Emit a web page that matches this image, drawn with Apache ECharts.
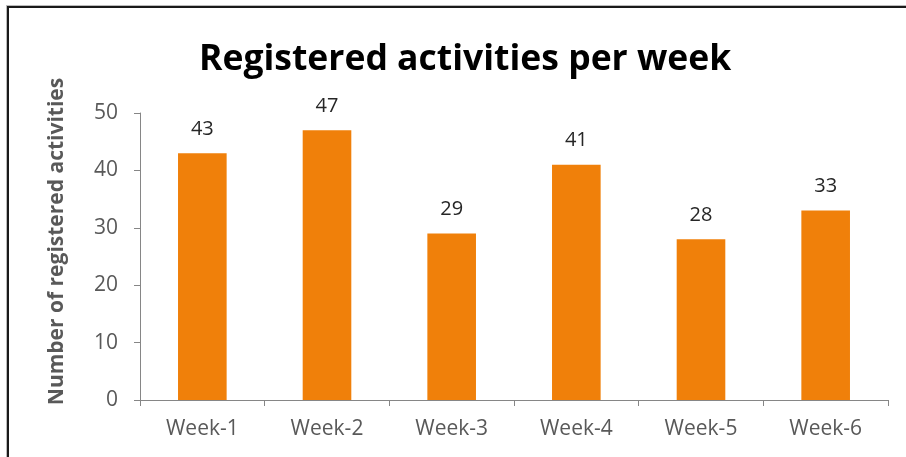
<!DOCTYPE html>
<html>
<head>
<meta charset="utf-8">
<script src="https://cdn.jsdelivr.net/npm/echarts@6/dist/echarts.min.js"></script>
<style>
  html, body { margin: 0; padding: 0; background: #fff; }
  #frame {
    position: absolute; left: 7px; top: 6px; width: 910px; height: 470px;
    border-left: 2px solid #1a1a1a; border-top: 2px solid #1a1a1a;
    box-shadow: -1px -1px 0 #bbb;
  }
  #chart { position: absolute; left: 0; top: 0; width: 906px; height: 457px; }
</style>
</head>
<body>
<div id="frame"></div>
<div id="chart"></div>
<script>
const weeks = ['Week-1', 'Week-2', 'Week-3', 'Week-4', 'Week-5', 'Week-6'];
const activities = [43, 47, 29, 41, 28, 33];
const yTicks = { min: 0, max: 50, interval: 10 };

const font = 'Open Sans, sans-serif';
const myChart = echarts.init(document.getElementById('chart'));

let option = {
  animation: false,
  title: {
    text: 'Registered activities per week',
    left: 199,
    top: 42,
    padding: 0,
    textStyle: { fontFamily: font, fontWeight: 'bold', fontSize: 35.5, color: '#000' }
  },
  grid: { left: 140, right: 18, top: 113, bottom: 57 },
  xAxis: {
    type: 'category',
    data: weeks,
    axisLine: { lineStyle: { color: '#868686', width: 1 } },
    axisTick: { show: true, length: 6, lineStyle: { color: '#868686' } },
    axisLabel: { fontFamily: font, fontSize: 21, color: '#595959', margin: 19 }
  },
  yAxis: {
    type: 'value',
    min: yTicks.min,
    max: yTicks.max,
    interval: yTicks.interval,
    name: 'Number of registered activities',
    nameLocation: 'middle',
    nameGap: 72,
    nameTextStyle: { fontFamily: font, fontWeight: 'bold', fontSize: 21, color: '#595959', padding: [0, 0, 0, 30] },
    splitLine: { show: false },
    axisLine: { show: true, lineStyle: { color: '#868686', width: 1 } },
    axisTick: { show: true, length: 6, lineStyle: { color: '#868686' } },
    axisLabel: { fontFamily: font, fontSize: 21, color: '#595959', margin: 22 }
  },
  series: [{
    type: 'bar',
    data: activities,
    barWidth: '39%',
    itemStyle: { color: '#F0800A' },
    label: {
      show: true,
      position: 'top',
      distance: 14,
      fontFamily: font,
      fontSize: 20,
      color: '#262626'
    }
  }]
};
myChart.setOption(option);
</script>
</body>
</html>
